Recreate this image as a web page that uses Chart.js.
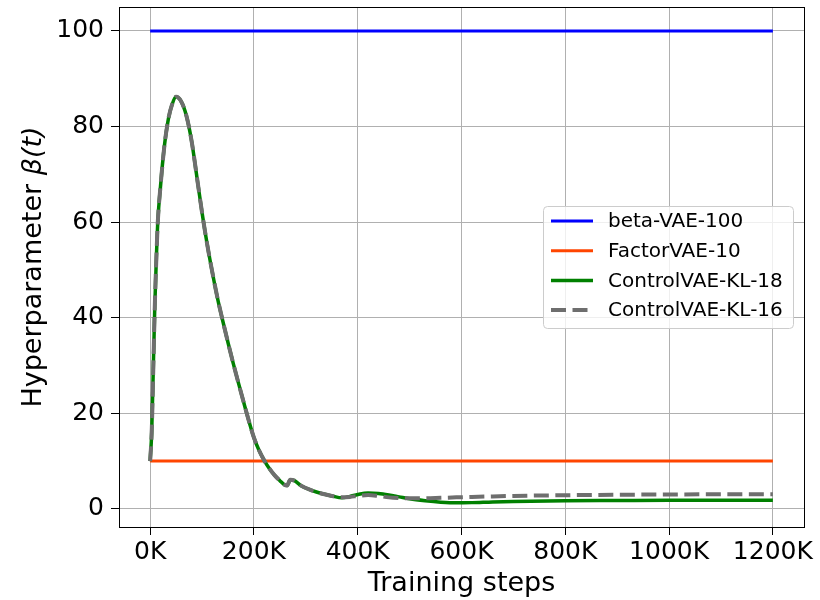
<!DOCTYPE html>
<html>
<head>
<meta charset="utf-8">
<script src="https://cdn.jsdelivr.net/npm/chart.js@4.4.1/dist/chart.umd.min.js"></script>
<style>
  html, body { margin: 0; padding: 0; background: #fff; }
  #wrap { width: 820px; height: 600px; }
</style>
</head>
<body>
<div id="wrap"><canvas id="chart" width="820" height="600"></canvas></div>
<script>
// training steps in K
const steps = [0, 3, 6, 9, 12, 15, 20, 27, 35, 42, 50, 60, 70, 80, 90, 100, 110, 120, 130, 140, 150, 160, 170, 180, 190, 200, 210, 220, 230, 240, 250, 258, 264, 270, 278, 290, 310, 330, 350, 370, 385, 400, 420, 440, 460, 480, 500, 530, 560, 590, 620, 660, 700, 800, 900, 1000, 1100, 1200];
const controlKL18 = [10, 16, 29, 42.5, 52.5, 60.5, 67.5, 75.5, 81.5, 84.5, 86.2, 85.2, 82.2, 76.9, 69.5, 62, 55.3, 49.4, 44, 39.3, 34.8, 30.5, 26.4, 22.4, 18.5, 14.9, 12.2, 10.1, 8.4, 7.0, 5.9, 5.1, 4.9, 6.1, 5.9, 4.9, 3.9, 3.2, 2.7, 2.3, 2.6, 3.0, 3.3, 3.2, 2.9, 2.5, 2.1, 1.7, 1.4, 1.25, 1.3, 1.45, 1.55, 1.7, 1.75, 1.8, 1.8, 1.8];
const controlKL16 = [10, 16, 29, 42.5, 52.5, 60.5, 67.5, 75.5, 81.5, 84.5, 86.2, 85.2, 82.2, 76.9, 69.5, 62, 55.3, 49.4, 44, 39.3, 34.8, 30.5, 26.4, 22.4, 18.5, 14.9, 12.2, 10.1, 8.4, 7.0, 5.9, 5.1, 4.9, 6.1, 5.9, 4.9, 3.9, 3.2, 2.7, 2.4, 2.5, 2.7, 2.9, 2.7, 2.4, 2.25, 2.2, 2.2, 2.3, 2.4, 2.5, 2.6, 2.7, 2.85, 2.95, 3.0, 3.05, 3.05];
const flatSteps = [0, 1200];
const betaVAE100 = [100, 100];
const factorVAE10 = [10, 10];
const xTicks = [0, 200, 400, 600, 800, 1000, 1200];
const yTicks = [0, 20, 40, 60, 80, 100];

const toPoints = (xs, ys) => xs.map((x, i) => ({x: x, y: ys[i]}));
const FONT = 'DejaVu Sans';

const framePlugin = {
    id: 'frame',
    afterDatasetsDraw(chart) {
        const {ctx, chartArea: a} = chart;
        ctx.save();
        ctx.strokeStyle = '#000';
        ctx.lineWidth = 1;
        ctx.strokeRect(Math.round(a.left) + 0.5, Math.round(a.top) + 0.5,
            Math.round(a.right - a.left), Math.round(a.bottom - a.top));
        ctx.restore();
    }
};

const legendPlugin = {
    id: 'boxLegend',
    afterDraw(chart) {
        const ctx = chart.ctx;
        const x0 = 543, y0 = 206, w = 250, h = 122, r = 4;
        ctx.save();
        ctx.beginPath();
        ctx.roundRect(x0 + 0.5, y0 + 0.5, w, h, r);
        ctx.fillStyle = 'rgba(255,255,255,0.8)';
        ctx.fill();
        ctx.strokeStyle = '#cccccc';
        ctx.lineWidth = 1;
        ctx.stroke();
        ctx.font = '20px "' + FONT + '"';
        ctx.textBaseline = 'middle';
        chart.data.datasets.forEach((ds, i) => {
            const cy = 221 + i * 29.7;
            ctx.beginPath();
            ctx.setLineDash(ds.borderDash || []);
            ctx.strokeStyle = ds.borderColor;
            ctx.lineWidth = ds.borderWidth;
            ctx.moveTo(551, cy);
            ctx.lineTo(593, cy);
            ctx.stroke();
            ctx.setLineDash([]);
            ctx.fillStyle = '#000';
            ctx.fillText(ds.label, 608, cy + 1);
        });
        ctx.restore();
    }
};

const yTitlePlugin = {
    id: 'yTitle',
    afterDraw(chart) {
        const {ctx, chartArea: a} = chart;
        const part1 = 'Hyperparameter ';
        const part2 = 'β(t)';
        const f1 = '27px "' + FONT + '"';
        const f2 = 'italic 27px "' + FONT + '"';
        ctx.save();
        ctx.font = f1;
        const w1 = ctx.measureText(part1).width;
        ctx.font = f2;
        const w2 = ctx.measureText(part2).width;
        ctx.translate(34, (a.top + a.bottom) / 2);
        ctx.rotate(-Math.PI / 2);
        ctx.textBaseline = 'middle';
        ctx.textAlign = 'left';
        ctx.fillStyle = '#000';
        const start = -(w1 + w2) / 2;
        ctx.font = f1;
        ctx.fillText(part1, start, 0);
        ctx.font = f2;
        ctx.fillText(part2, start + w1, 0);
        ctx.restore();
    }
};

new Chart(document.getElementById('chart').getContext('2d'), {
    type: 'line',
    data: {
        datasets: [
            {
                label: 'beta-VAE-100',
                data: toPoints(flatSteps, betaVAE100),
                borderColor: '#0000ff',
                borderWidth: 3,
                pointRadius: 0,
                order: 4
            }, {
                label: 'FactorVAE-10',
                data: toPoints(flatSteps, factorVAE10),
                borderColor: '#ff4500',
                borderWidth: 3,
                pointRadius: 0,
                order: 3
            }, {
                label: 'ControlVAE-KL-18',
                data: toPoints(steps, controlKL18),
                borderColor: '#008000',
                borderWidth: 3.5,
                pointRadius: 0,
                cubicInterpolationMode: 'monotone',
                order: 2
            }, {
                label: 'ControlVAE-KL-16',
                data: toPoints(steps, controlKL16),
                borderColor: '#6e6e6e',
                borderWidth: 4,
                borderDash: [15, 6.5],
                pointRadius: 0,
                cubicInterpolationMode: 'monotone',
                order: 1
            }
        ]
    },
    options: {
        responsive: false,
        animation: false,
        layout: {padding: {top: 7, right: 16, left: 0, bottom: 0}},
        plugins: {
            legend: {display: false},
            tooltip: {enabled: false}
        },
        scales: {
            x: {
                type: 'linear',
                min: -60,
                max: 1260,
                afterBuildTicks: s => { s.ticks = xTicks.map(v => ({value: v})); },
                afterFit: s => { s.height = 73; s.paddingLeft = 0; s.paddingRight = 0; },
                ticks: {
                    callback: v => v + 'K',
                    color: '#000',
                    font: {family: FONT, size: 25},
                    padding: 2,
                    maxRotation: 0
                },
                grid: {color: '#b0b0b0', lineWidth: 1, tickColor: '#000', tickLength: 8},
                border: {display: true, color: '#000'},
                title: {
                    display: true,
                    text: 'Training steps',
                    color: '#000',
                    font: {family: FONT, size: 27},
                    padding: {top: 0, bottom: 0}
                }
            },
            y: {
                min: -3.8,
                max: 105,
                afterBuildTicks: s => { s.ticks = yTicks.map(v => ({value: v})); },
                afterFit: s => { s.width = 119; s.paddingTop = 0; s.paddingBottom = 0; },
                ticks: {
                    color: '#000',
                    font: {family: FONT, size: 25},
                    padding: 7
                },
                grid: {color: '#b0b0b0', lineWidth: 1, tickColor: '#000', tickLength: 8},
                border: {display: true, color: '#000'}
            }
        }
    },
    plugins: [framePlugin, legendPlugin, yTitlePlugin]
});
</script>
</body>
</html>
